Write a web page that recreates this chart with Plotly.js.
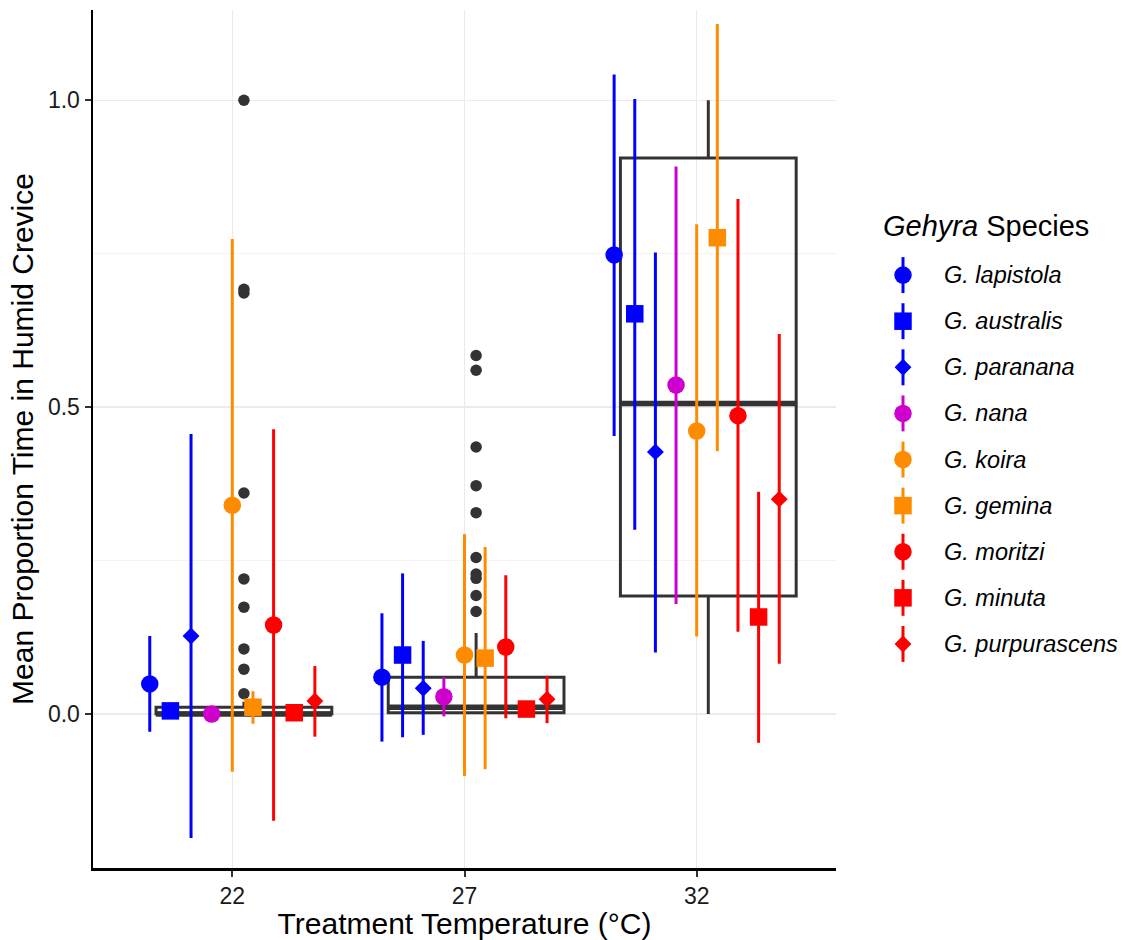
<!DOCTYPE html>
<html>
<head>
<meta charset="utf-8">
<script src="https://cdn.plot.ly/plotly-3.0.1.min.js"></script>
<style>html,body{margin:0;padding:0;background:#fff;}#chart{width:1127px;height:940px;}</style>
</head>
<body>
<div id="chart"></div>
<script>
// ---------------- DATA ----------------
const temperatures = ['22', '27', '32'];
const species = ['G. lapistola', 'G. australis', 'G. paranana', 'G. nana', 'G. koira',
                 'G. gemina', 'G. moritzi', 'G. minuta', 'G. purpurascens'];
const speciesColors = ['#0000FF', '#0000FF', '#0000FF', '#CD00CD', '#FF8C00',
                       '#FF8C00', '#FF0000', '#FF0000', '#FF0000'];
const speciesSymbols = ['circle', 'square', 'diamond', 'circle', 'circle',
                        'square', 'circle', 'square', 'diamond'];

// mean proportion per species at 22, 27, 32 °C
const meanVals = [
  [0.049, 0.060, 0.748],
  [0.005, 0.096, 0.652],
  [0.127, 0.042, 0.427],
  [0.000, 0.028, 0.536],
  [0.340, 0.096, 0.461],
  [0.011, 0.091, 0.776],
  [0.145, 0.109, 0.486],
  [0.002, 0.008, 0.158],
  [0.021, 0.024, 0.350]
];
const lowerVals = [
  [-0.029, -0.045, 0.453],
  [-0.005, -0.038, 0.300],
  [-0.202, -0.034, 0.100],
  [-0.004, -0.004, 0.179],
  [-0.094, -0.101, 0.126],
  [-0.016, -0.090, 0.428],
  [-0.174, -0.007, 0.134],
  [-0.004, -0.002, -0.047],
  [-0.037, -0.015, 0.082]
];
const upperVals = [
  [0.127, 0.164, 1.042],
  [0.015, 0.229, 1.002],
  [0.456, 0.119, 0.752],
  [0.004, 0.060, 0.892],
  [0.774, 0.293, 0.798],
  [0.037, 0.272, 1.124],
  [0.464, 0.226, 0.839],
  [0.008, 0.018, 0.362],
  [0.078, 0.062, 0.619]
];

// boxplot statistics per temperature
const boxLower  = [0.000, 0.000, 0.000];
const boxQ1     = [0.000, 0.002, 0.192];
const boxMedian = [0.000, 0.011, 0.506];
const boxQ3     = [0.011, 0.060, 0.906];
const boxUpper  = [0.020, 0.132, 1.000];
// outliers per temperature
const outliers22 = [1.000, 0.692, 0.686, 0.360, 0.220, 0.174, 0.106, 0.073, 0.033];
const outliers27 = [0.584, 0.560, 0.435, 0.372, 0.328, 0.255, 0.228, 0.221, 0.193, 0.167];
const outliers32 = [];

// ---------------- STYLE ----------------
const FONT = 'Liberation Sans, Arial, Helvetica, sans-serif';
const dodgeWidth = 0.8;
const boxShift = 0.05;
const boxWidth = 0.757;
const boxColor = '#333333';

const traces = [];

// boxes
const boxX = temperatures.map((t, i) => i + boxShift);
traces.push({
  type: 'box', x: boxX,
  q1: boxQ1, median: boxMedian, q3: boxQ3,
  lowerfence: boxLower, upperfence: boxUpper,
  width: boxWidth, whiskerwidth: 0, boxpoints: false,
  line: {color: boxColor, width: 3},
  fillcolor: 'rgba(0,0,0,0)',
  hoverinfo: 'skip', showlegend: false, xaxis: 'x', yaxis: 'y'
});
// thick median lines
const medX = [], medY = [];
boxX.forEach((c, i) => { medX.push(c - boxWidth / 2, c + boxWidth / 2, null); medY.push(boxMedian[i], boxMedian[i], null); });
traces.push({type: 'scatter', mode: 'lines', x: medX, y: medY,
  line: {color: boxColor, width: 5.5}, hoverinfo: 'skip', showlegend: false});

// outliers
const outlierSets = [outliers22, outliers27, outliers32];
const oX = [], oY = [];
outlierSets.forEach((arr, i) => arr.forEach(v => { oX.push(i + boxShift); oY.push(v); }));
traces.push({type: 'scatter', mode: 'markers', x: oX, y: oY,
  marker: {color: boxColor, size: 11.5, line: {width: 0}}, showlegend: false});

// species point ranges
const nSp = species.length;
const step = dodgeWidth / nSp;
species.forEach((sp, s) => {
  const off = (s - (nSp - 1) / 2) * step;
  traces.push({
    type: 'scatter', mode: 'markers', name: sp,
    x: temperatures.map((t, i) => i + off),
    y: meanVals[s],
    error_y: {type: 'data', symmetric: false,
      array: meanVals[s].map((m, i) => upperVals[s][i] - m),
      arrayminus: meanVals[s].map((m, i) => m - lowerVals[s][i]),
      width: 0, thickness: 3, color: speciesColors[s]},
    marker: {color: speciesColors[s], symbol: speciesSymbols[s],
      size: speciesSymbols[s] === 'diamond' ? 13 : 17.5, line: {width: 0}},
    showlegend: false
  });
});

// manual legend (ggplot-style point-range keys)
const annotations = [];
species.forEach((sp, s) => {
  traces.push({
    type: 'scatter', mode: 'markers', x: [33], y: [s], xaxis: 'x2', yaxis: 'y2',
    error_y: {type: 'constant', value: 0.39, width: 0, thickness: 3, color: speciesColors[s]},
    marker: {color: speciesColors[s], symbol: speciesSymbols[s],
      size: speciesSymbols[s] === 'diamond' ? 13 : 17.5, line: {width: 0}},
    showlegend: false, hoverinfo: 'skip'
  });
  annotations.push({xref: 'x2', yref: 'y2', x: 72, y: s, xanchor: 'left', yanchor: 'middle',
    text: '<i>' + sp + '</i>', showarrow: false, font: {family: FONT, size: 23.5, color: '#000'}});
});
annotations.push({xref: 'x2', yref: 'y2', x: 11, y: -1.06, xanchor: 'left', yanchor: 'middle',
  text: '<i>Gehyra</i> Species', showarrow: false, font: {family: FONT, size: 29, color: '#000'}});

const plotW = 1127 - 93;
const layout = {
  width: 1127, height: 940,
  margin: {l: 93, r: 0, t: 10, b: 72},
  paper_bgcolor: '#ffffff', plot_bgcolor: '#ffffff',
  font: {family: FONT, color: '#000'},
  showlegend: false,
  xaxis: {
    domain: [0, 743 / plotW], range: [-0.6, 2.6],
    tickmode: 'array', tickvals: [0, 1, 2], ticktext: temperatures,
    showgrid: true, gridcolor: '#ebebeb', gridwidth: 1.2, zeroline: false,
    showline: true, linecolor: '#000', linewidth: 2.5,
    ticks: 'outside', ticklen: 6, tickwidth: 2, tickcolor: '#333',
    tickfont: {family: FONT, size: 23, color: '#1a1a1a'},
    title: {text: 'Treatment Temperature (°C)', font: {family: FONT, size: 30, color: '#000'}, standoff: 5},
    fixedrange: true
  },
  yaxis: {
    range: [-0.251, 1.147],
    tickmode: 'array', tickvals: [0, 0.5, 1], ticktext: ['0.0', '0.5', '1.0'],
    showgrid: true, gridcolor: '#ebebeb', gridwidth: 1.2, zeroline: false,
    minor: {tickvals: [-0.25, 0.25, 0.75], showgrid: true, gridcolor: '#f3f3f3', gridwidth: 1, ticks: ''},
    showline: true, linecolor: '#000', linewidth: 2.5,
    ticks: 'outside', ticklen: 6, tickwidth: 2, tickcolor: '#333',
    tickfont: {family: FONT, size: 23, color: '#1a1a1a'},
    title: {text: 'Mean Proportion Time in Humid Crevice', font: {family: FONT, size: 30, color: '#000'}, standoff: 6},
    fixedrange: true
  },
  xaxis2: {domain: [(870 - 93) / plotW, 1], range: [0, 257], anchor: 'y2', visible: false, fixedrange: true},
  yaxis2: {domain: [0, 1], range: [12.86, -5.75], anchor: 'x2', visible: false, fixedrange: true},
  annotations: annotations
};

Plotly.newPlot('chart', traces, layout, {displayModeBar: false, staticPlot: true});
</script>
</body>
</html>
